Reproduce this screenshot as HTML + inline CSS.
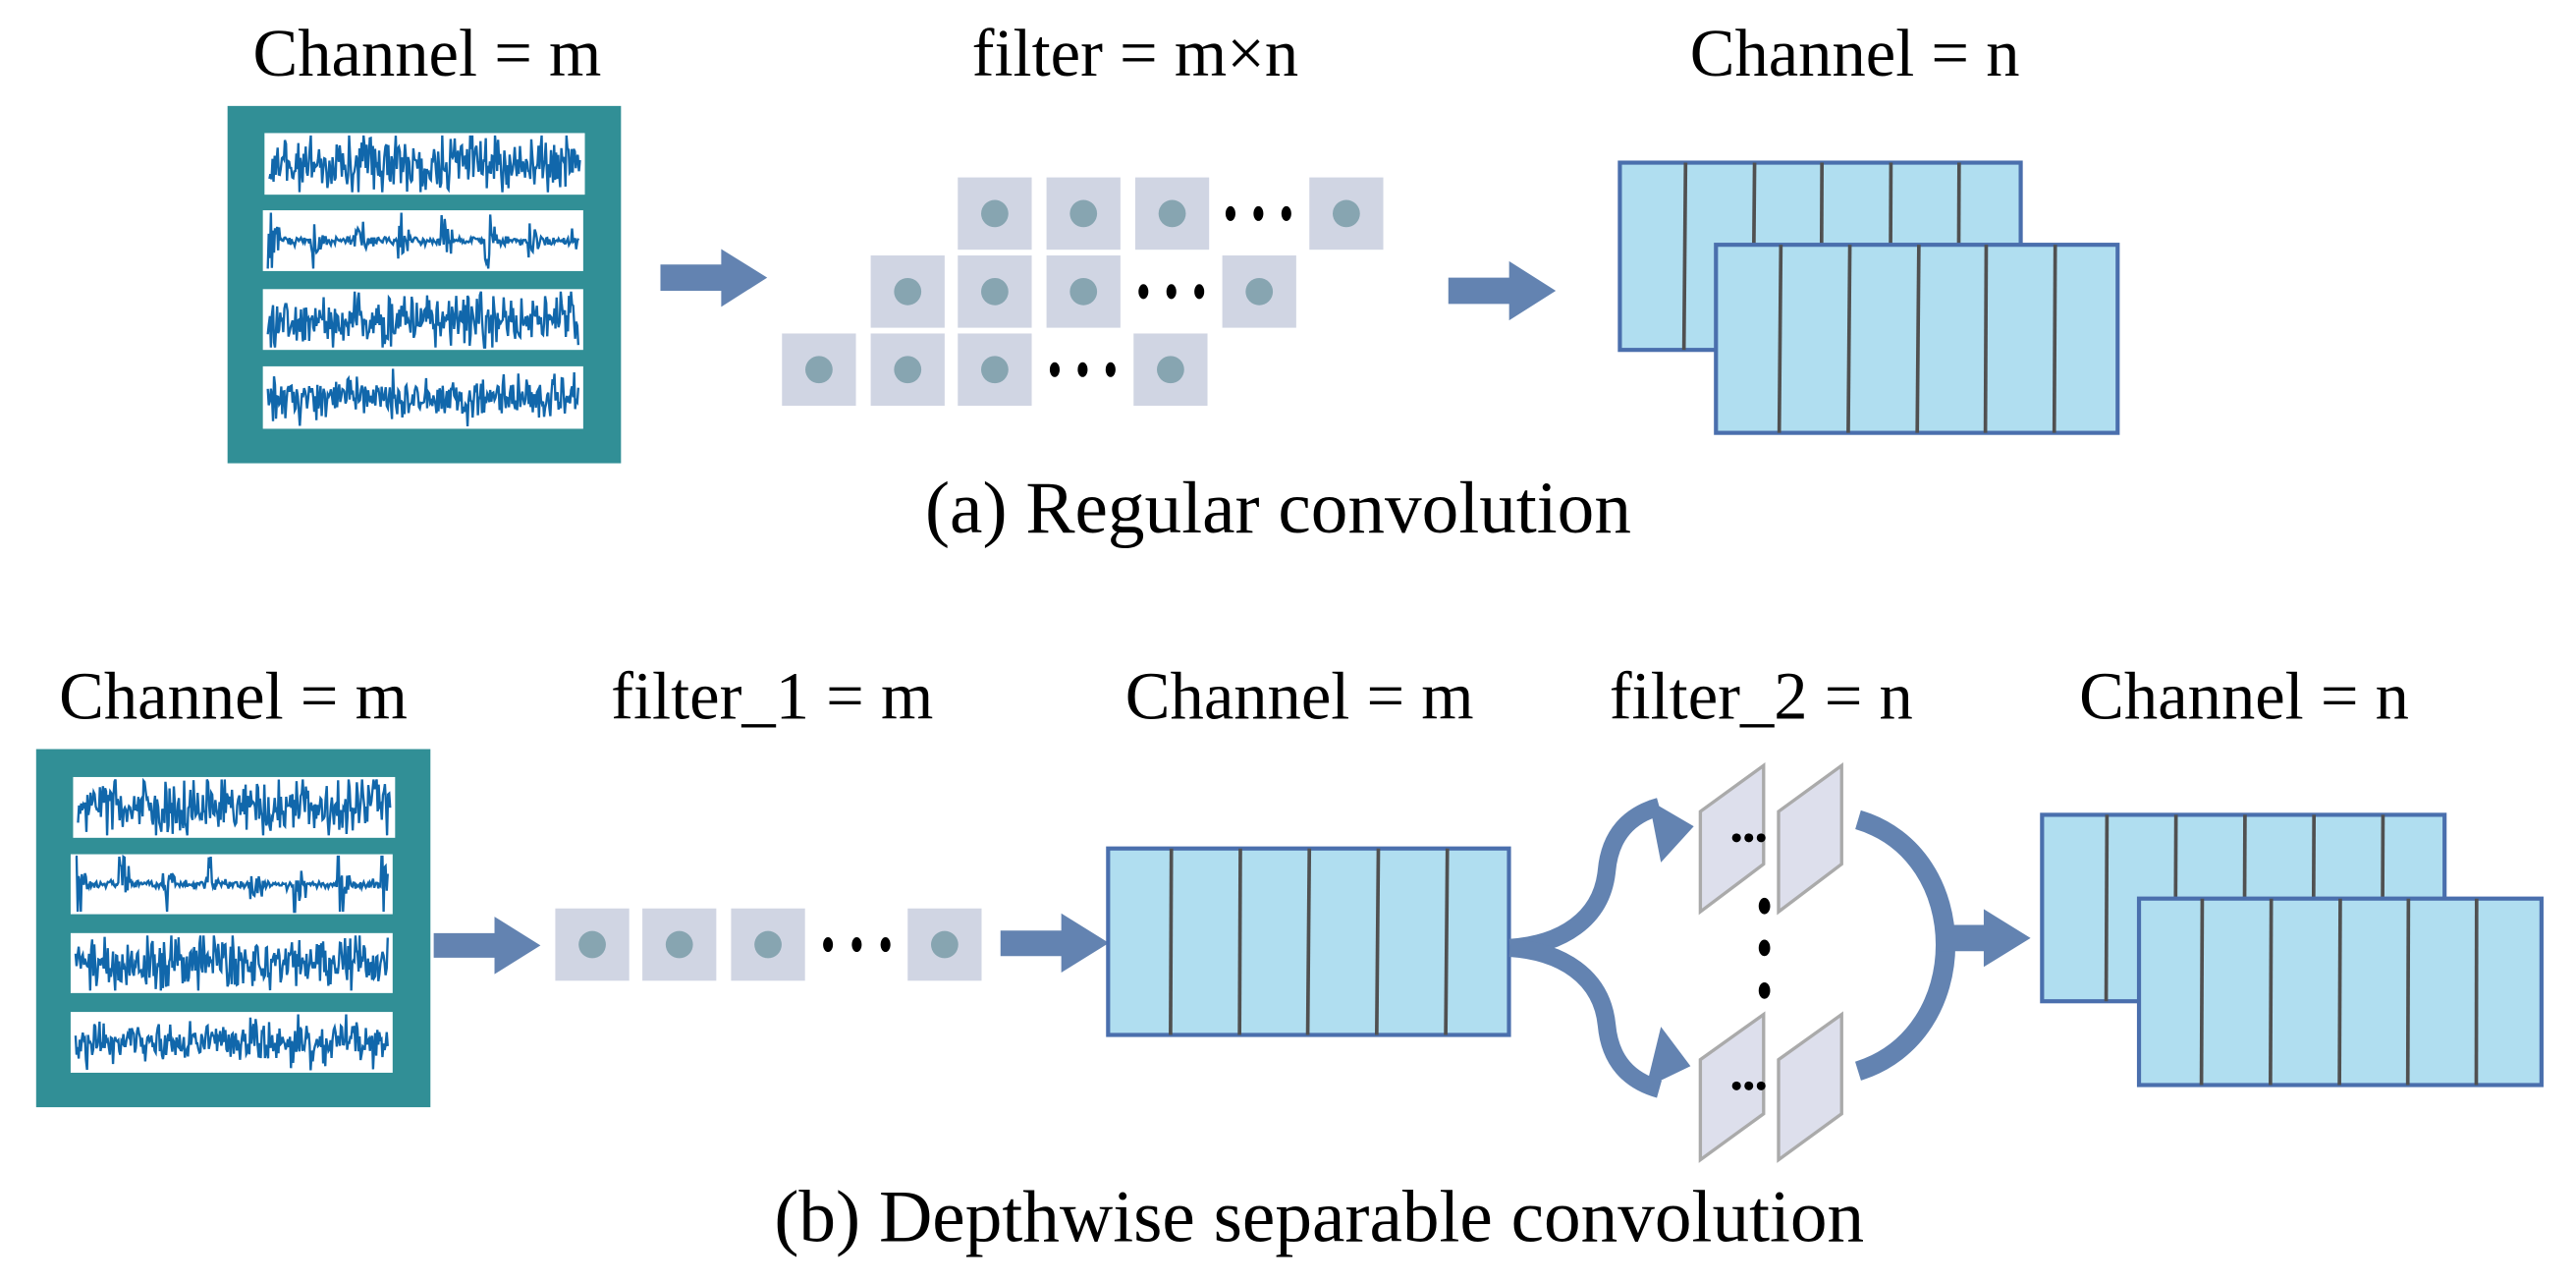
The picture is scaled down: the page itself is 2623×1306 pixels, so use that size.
<!DOCTYPE html>
<html><head><meta charset="utf-8"><style>
html,body{margin:0;padding:0;background:#fff;}
svg{display:block;}
text{font-family:"Liberation Serif","Times New Roman",serif;fill:#000;}
</style></head><body>
<svg id="s" width="2623" height="1306" viewBox="0 0 1568 781" preserveAspectRatio="none" xmlns="http://www.w3.org/2000/svg">
<defs>
<g id="sq"><rect x="0" y="0" width="45" height="44" fill="#d0d5e3"/><circle cx="22.5" cy="22" r="8.3" fill="#87a5b1"/></g>
</defs>
<text x="260" y="46" font-size="41" text-anchor="middle">Channel = m</text>
<text x="691" y="46" font-size="41" text-anchor="middle">filter = m×n</text>
<text x="1129" y="46" font-size="41" text-anchor="middle">Channel = n</text>
<text x="778" y="324" font-size="45" text-anchor="middle">(a) Regular convolution</text>
<rect x="138.5" y="64.5" width="239.5" height="217.5" fill="#318f96"/>
<g id="wavesA"></g>
<polygon points="402,161 439,161 439,151.6 467,169 439,186.8 439,177 402,177" fill="#6383b1"/>
<use href="#sq" x="583" y="108"/><use href="#sq" x="637" y="108"/><use href="#sq" x="691" y="108"/><use href="#sq" x="797" y="108"/>
<use href="#sq" x="530" y="155.5"/><use href="#sq" x="583" y="155.5"/><use href="#sq" x="637" y="155.5"/><use href="#sq" x="744" y="155.5"/>
<use href="#sq" x="476" y="203"/><use href="#sq" x="530" y="203"/><use href="#sq" x="583" y="203"/><use href="#sq" x="690" y="203"/>
<g fill="#000">
<ellipse cx="749" cy="130" rx="3" ry="4.5"/><ellipse cx="766" cy="130" rx="3" ry="4.5"/><ellipse cx="783" cy="130" rx="3" ry="4.5"/>
<ellipse cx="696" cy="177.5" rx="3" ry="4.5"/><ellipse cx="713" cy="177.5" rx="3" ry="4.5"/><ellipse cx="730" cy="177.5" rx="3" ry="4.5"/>
<ellipse cx="642" cy="225" rx="3" ry="4.5"/><ellipse cx="659" cy="225" rx="3" ry="4.5"/><ellipse cx="676" cy="225" rx="3" ry="4.5"/>
</g>
<polygon points="881.6,169 918.6,169 918.6,159 947,177 918.6,195 918.6,185 881.6,185" fill="#6383b1"/>
<g stroke-width="2.5">
<rect x="986" y="99" width="244" height="114" fill="#b0def0" stroke="#4a6fad"/>
<g stroke="#505050" stroke-width="2.2"><line x1="1026" y1="99" x2="1025" y2="213"/><line x1="1068" y1="99" x2="1067" y2="213"/><line x1="1109" y1="99" x2="1108.5" y2="213"/><line x1="1151" y1="99" x2="1150.5" y2="213"/><line x1="1192.5" y1="99" x2="1192" y2="213"/></g>
<rect x="1044.5" y="149" width="244.5" height="114.5" fill="#b0def0" stroke="#4a6fad"/>
<g stroke="#505050" stroke-width="2.2"><line x1="1084" y1="149" x2="1083" y2="263.5"/><line x1="1126" y1="149" x2="1125" y2="263.5"/><line x1="1168" y1="149" x2="1167" y2="263.5"/><line x1="1209" y1="149" x2="1208.5" y2="263.5"/><line x1="1251" y1="149" x2="1250.4" y2="263.5"/></g>
</g>

<text x="142" y="437.5" font-size="41" text-anchor="middle">Channel = m</text>
<text x="470" y="437.5" font-size="41" text-anchor="middle">filter_1 = m</text>
<text x="791" y="437.5" font-size="41" text-anchor="middle">Channel = m</text>
<text x="1072" y="437.5" font-size="41" text-anchor="middle">filter_2 = n</text>
<text x="1366" y="437.5" font-size="41" text-anchor="middle">Channel = n</text>
<text x="803" y="755.5" font-size="45" text-anchor="middle">(b) Depthwise separable convolution</text>
<rect x="22" y="456" width="240" height="218" fill="#318f96"/>
<g id="wavesB"></g>
<polygon points="264,568 301,568 301,558 329,575.5 301,593 301,583 264,583" fill="#6383b1"/>
<use href="#sq" x="338" y="553"/><use href="#sq" x="391" y="553"/><use href="#sq" x="445" y="553"/><use href="#sq" x="552.5" y="553"/>
<g fill="#000"><ellipse cx="504" cy="575" rx="3" ry="4.5"/><ellipse cx="521.5" cy="575" rx="3" ry="4.5"/><ellipse cx="539" cy="575" rx="3" ry="4.5"/></g>
<polygon points="609,566.5 646,566.5 646,556 675,574 646,592 646,582 609,582" fill="#6383b1"/>
<rect x="674.5" y="516.5" width="244" height="113.5" fill="#b0def0" stroke="#4a6fad" stroke-width="2.5"/>
<g stroke="#505050" stroke-width="2.2"><line x1="713" y1="516.5" x2="712.5" y2="630"/><line x1="755" y1="516.5" x2="754.5" y2="630"/><line x1="797" y1="516.5" x2="796" y2="630"/><line x1="839" y1="516.5" x2="838" y2="630"/><line x1="881" y1="516.5" x2="880" y2="630"/></g>
<g fill="none" stroke="#6383b1" stroke-width="11">
<path d="M919,577 C950,575 975,560 978,530 C980,508 992,496 1010,491"/>
<path d="M919,577 C950,579 975,594 978,624 C980,646 992,658 1010,663"/>
<path d="M1131,499 C1202,520 1202,630 1131,652" stroke-width="12"/>
</g>
<polygon points="1003.6,487 1031,503 1011,525" fill="#6383b1"/>
<polygon points="1002,662 1029,649 1011,625" fill="#6383b1"/>
<polygon points="1180,563 1207.5,563 1207.5,553.4 1236,571 1207.5,588.6 1207.5,579 1180,579" fill="#6383b1"/>
<g fill="#dddfec" stroke="#aaa" stroke-width="2">
<polygon points="1035,494 1073.5,466 1073.5,526 1035,555"/>
<polygon points="1082.6,494 1121,466 1121,526 1082.6,555"/>
<polygon points="1035,645 1073.5,617.5 1073.5,678 1035,706"/>
<polygon points="1082.6,645 1121,617.5 1121,678 1082.6,706"/>
</g>
<g fill="#000">
<circle cx="1057" cy="510" r="2.7"/><circle cx="1064.5" cy="510" r="2.7"/><circle cx="1072" cy="510" r="2.7"/>
<circle cx="1057" cy="661" r="2.7"/><circle cx="1064.5" cy="661" r="2.7"/><circle cx="1072" cy="661" r="2.7"/>
<ellipse cx="1074" cy="551.5" rx="3.5" ry="5"/><ellipse cx="1074" cy="577" rx="3.5" ry="5"/><ellipse cx="1074" cy="603" rx="3.5" ry="5"/>
</g>
<rect x="1243" y="496" width="245" height="113.5" fill="#b0def0" stroke="#4a6fad" stroke-width="2.5"/>
<g stroke="#505050" stroke-width="2.2"><line x1="1282.5" y1="496" x2="1282" y2="609.5"/><line x1="1324.5" y1="496" x2="1324" y2="609.5"/><line x1="1366.5" y1="496" x2="1366" y2="609.5"/><line x1="1408.5" y1="496" x2="1408" y2="609.5"/><line x1="1450.5" y1="496" x2="1450" y2="609.5"/></g>
<rect x="1302" y="547" width="245" height="113.5" fill="#b0def0" stroke="#4a6fad" stroke-width="2.5"/>
<g stroke="#505050" stroke-width="2.2"><line x1="1340.5" y1="547" x2="1340" y2="660.5"/><line x1="1382.5" y1="547" x2="1382" y2="660.5"/><line x1="1424.5" y1="547" x2="1424" y2="660.5"/><line x1="1466" y1="547" x2="1465.6" y2="660.5"/><line x1="1507.5" y1="547" x2="1507.3" y2="660.5"/></g>
</svg>
<script>
(function(){
var seed=12345;function r(){seed=(seed*1103515245+12345)%2147483648;return seed/2147483648;}
function g(){return (r()+r()+r()+r()-2)*0.9;}
var NS="http://www.w3.org/2000/svg";
function panel(parent,x,y,w,h,type){
  var rc=document.createElementNS(NS,"rect");
  rc.setAttribute("x",x);rc.setAttribute("y",y);rc.setAttribute("width",w);rc.setAttribute("height",h);rc.setAttribute("fill","#fff");
  parent.appendChild(rc);
  var n=300,d="",cy=y+h/2,x0=x+3,x1=x+w-3;
  for(var i=0;i<=n;i++){
    var px=x0+(x1-x0)*i/n,a;
    if(type==0){a=g()*17;}
    else if(type==1){var ph=(i%42);a=g()*(ph<6?26:(ph<12?9:2.5));}
    else if(type==2){a=g()*16;if(r()<0.04)a*=1.8;}
    else {a=g()*11;if(r()<0.04)a*=2.2;}
    var py=Math.max(y+1.5,Math.min(y+h-1.5,cy+a));
    d+=(i?"L":"M")+px.toFixed(1)+","+py.toFixed(1);
  }
  var p=document.createElementNS(NS,"path");
  p.setAttribute("d",d);p.setAttribute("fill","none");p.setAttribute("stroke","#1167ab");p.setAttribute("stroke-width","1.4");
  parent.appendChild(p);
}
var A=document.getElementById("wavesA");
panel(A,161,81,195,37.5,0);panel(A,160,128,195,37,1);panel(A,160,176,195,37,2);panel(A,160,223,195,38,3);
var B=document.getElementById("wavesB");
panel(B,44.5,473,196,37,0);panel(B,43,520,196,36.5,1);panel(B,43,568,196,36.5,2);panel(B,43,616,196,37,3);
})();
</script>
</body></html>
